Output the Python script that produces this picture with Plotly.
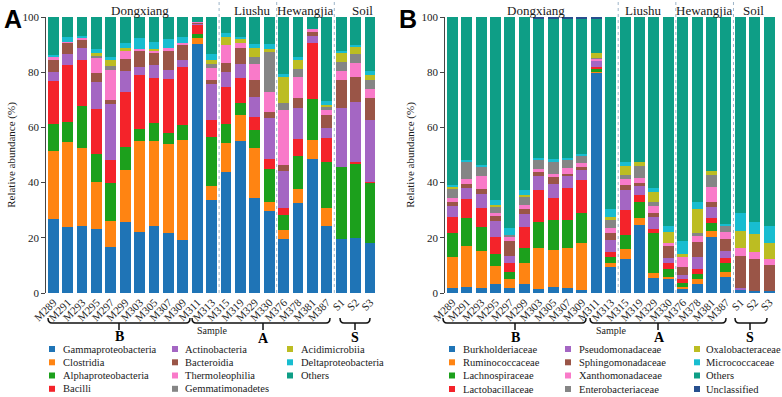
import plotly.graph_objects as go

# ---------------- data ----------------
samples = ["M289", "M291", "M293", "M295", "M297", "M299", "M303", "M305", "M307", "M309",
           "M311", "M313", "M315", "M319", "M329", "M330", "M376", "M378", "M381", "M387",
           "S1", "S2", "S3"]

# Panel A (class level), % relative abundance
classes_A = ["Gammaproteobacteria", "Clostridia", "Alphaproteobacteria", "Bacilli",
             "Actinobacteria", "Bacteroidia", "Thermoleophilia", "Gemmatimonadetes",
             "Acidimicrobiia", "Deltaproteobacteria", "Others"]
gammaproteobacteria = [26.7, 23.8, 24.4, 23.1, 16.6, 25.6, 22.2, 24.3, 21.9, 19.2, 90.2, 33.7, 44.0, 55.2, 34.3, 29.7, 19.6, 32.5, 48.6, 24.3, 19.6, 19.8, 18.0]
clostridia = [24.7, 30.9, 28.2, 17.2, 9.6, 19.0, 32.9, 30.8, 32.0, 36.1, 2.3, 5.2, 10.5, 9.3, 18.3, 3.4, 3.2, 5.1, 6.8, 6.6, 0.0, 0.0, 0.0]
alphaproteobacteria = [9.7, 7.3, 15.2, 10.2, 13.8, 8.4, 4.2, 6.6, 4.0, 5.6, 1.5, 17.7, 6.7, 4.2, 6.5, 11.7, 5.5, 12.0, 14.8, 16.7, 26.2, 27.2, 22.1]
bacilli = [15.7, 20.6, 16.6, 16.2, 8.2, 19.9, 19.6, 16.3, 19.6, 20.9, 3.1, 6.1, 13.5, 9.3, 4.6, 3.6, 2.6, 6.2, 20.3, 8.7, 0.0, 0.3, 0.3]
actinobacteria = [3.3, 4.0, 4.5, 9.9, 20.2, 7.6, 2.9, 4.5, 3.3, 2.6, 0.5, 12.9, 5.3, 5.0, 7.4, 14.9, 13.4, 11.3, 2.6, 3.6, 21.3, 22.0, 22.3]
bacteroidia = [4.3, 4.1, 3.0, 3.0, 1.5, 4.2, 6.0, 4.6, 7.2, 5.5, 0.4, 1.6, 3.2, 5.9, 6.1, 2.4, 2.1, 3.7, 1.8, 4.6, 10.1, 9.1, 8.1]
thermoleophilia = [1.0, 0.4, 0.5, 5.4, 10.9, 3.1, 0.7, 0.7, 0.6, 0.6, 0.3, 4.4, 6.7, 1.6, 5.7, 7.2, 19.9, 7.6, 0.6, 1.8, 3.2, 4.8, 3.0]
gemmatimonadetes = [0.0, 0.0, 0.0, 1.2, 1.4, 0.0, 0.0, 0.0, 0.0, 0.0, 0.0, 1.4, 0.0, 0.0, 2.7, 14.5, 2.4, 2.6, 0.0, 1.2, 3.4, 3.3, 3.4]
acidimicrobiia = [0.0, 0.0, 0.0, 0.6, 2.2, 0.8, 0.0, 0.5, 0.0, 0.0, 0.0, 1.4, 2.7, 1.4, 3.0, 0.9, 9.9, 3.7, 0.0, 0.5, 3.0, 2.7, 1.8]
deltaproteobacteria = [0.8, 1.5, 0.7, 1.5, 1.0, 1.9, 4.0, 2.8, 3.3, 2.4, 0.0, 2.1, 1.7, 1.0, 1.6, 1.9, 0.7, 0.7, 0.0, 1.6, 1.0, 0.7, 1.4]
others_A = [13.8, 7.4, 6.9, 11.7, 14.6, 9.5, 7.5, 8.9, 8.1, 7.1, 1.7, 13.5, 5.7, 7.1, 9.8, 9.8, 20.7, 14.6, 4.5, 30.4, 12.2, 10.1, 19.6]
series_A = [gammaproteobacteria, clostridia, alphaproteobacteria, bacilli, actinobacteria,
            bacteroidia, thermoleophilia, gemmatimonadetes, acidimicrobiia,
            deltaproteobacteria, others_A]

# Panel B (family level)
classes_B = ["Burkholderiaceae", "Ruminococcaceae", "Lachnospiraceae", "Lactobacillaceae",
             "Pseudomonadaceae", "Sphingomonadaceae", "Xanthomonadaceae", "Enterobacteriaceae",
             "Oxalobacteraceae", "Micrococcaceae", "Others", "Unclassified"]
burkholderiaceae = [1.9, 2.3, 1.7, 3.3, 1.7, 3.3, 1.4, 2.1, 1.7, 1.1, 79.8, 9.3, 12.3, 24.6, 5.3, 5.0, 1.3, 3.3, 20.2, 5.7, 1.1, 0.7, 0.7]
ruminococcaceae = [11.3, 14.7, 13.5, 6.5, 3.2, 7.5, 15.0, 13.5, 14.5, 16.9, 0.6, 1.7, 3.5, 2.5, 1.8, 0.9, 1.0, 1.7, 2.4, 2.0, 0.0, 0.0, 0.0]
lachnospiraceae = [8.4, 10.1, 8.6, 4.3, 2.8, 5.4, 9.4, 10.8, 10.2, 10.9, 0.6, 2.2, 5.2, 6.0, 14.5, 2.7, 1.4, 1.9, 2.6, 3.1, 0.0, 0.0, 0.0]
lactobacillaceae = [6.0, 7.0, 7.1, 6.3, 3.1, 7.8, 11.5, 7.9, 11.8, 12.0, 0.8, 1.8, 9.1, 2.4, 1.5, 2.2, 1.3, 1.7, 1.9, 2.0, 0.0, 0.0, 0.0]
pseudomonadaceae = [3.9, 4.1, 5.0, 5.6, 2.6, 4.6, 5.2, 5.2, 4.2, 3.7, 2.3, 4.2, 7.2, 3.3, 4.3, 1.8, 1.5, 4.6, 3.9, 2.4, 0.6, 0.0, 0.0]
sphingomonadaceae = [1.6, 1.2, 1.7, 1.9, 5.6, 1.8, 1.2, 2.4, 0.7, 1.2, 0.3, 2.4, 1.8, 0.9, 1.7, 4.5, 2.8, 5.2, 2.1, 4.4, 11.7, 11.5, 9.4]
xanthomonadaceae = [1.2, 1.9, 4.9, 1.2, 1.2, 1.5, 1.2, 1.2, 2.1, 1.2, 0.6, 2.1, 2.1, 1.9, 2.4, 0.9, 4.1, 2.4, 5.4, 2.4, 3.0, 2.8, 2.2]
enterobacteriaceae = [3.5, 6.0, 3.0, 2.4, 0.8, 3.1, 3.3, 4.5, 3.0, 2.8, 0.3, 2.7, 1.6, 4.5, 1.6, 0.0, 0.0, 0.8, 4.3, 2.3, 0.0, 0.0, 0.0]
oxalobacteraceae = [0.5, 0.0, 0.0, 0.4, 0.0, 0.4, 0.0, 0.0, 0.0, 0.0, 1.5, 1.0, 3.3, 1.5, 3.6, 4.2, 0.7, 8.7, 1.5, 0.0, 6.2, 6.4, 5.7]
micrococcaceae = [0.8, 0.9, 0.9, 1.8, 2.4, 1.9, 0.6, 0.8, 0.6, 0.4, 0.0, 2.9, 1.5, 0.0, 1.2, 2.1, 4.7, 2.8, 0.0, 0.6, 6.3, 4.4, 6.3]
others_B = [60.9, 51.8, 53.6, 66.3, 76.6, 62.7, 50.6, 51.0, 50.6, 49.2, 12.6, 69.7, 52.4, 52.4, 62.1, 75.7, 81.2, 66.9, 55.7, 75.1, 71.1, 74.2, 75.7]
unclassified = [0.0, 0.0, 0.0, 0.0, 0.0, 0.0, 0.6, 0.6, 0.6, 0.6, 0.6, 0.0, 0.0, 0.0, 0.0, 0.0, 0.0, 0.0, 0.0, 0.0, 0.0, 0.0, 0.0]
series_B = [burkholderiaceae, ruminococcaceae, lachnospiraceae, lactobacillaceae,
            pseudomonadaceae, sphingomonadaceae, xanthomonadaceae, enterobacteriaceae,
            oxalobacteraceae, micrococcaceae, others_B, unclassified]

y_ticks = [0, 20, 40, 60, 80, 100]
region_names = ["Dongxiang", "Liushu", "Hewangjia", "Soil"]
group_letters = ["B", "A", "S"]

# ---------------- style ----------------
pal = ["#1F74B6", "#FF8412", "#1CA01C", "#F4232A", "#A466C3", "#9A5547",
       "#F97AC9", "#858585", "#BCBD22", "#18BDD0", "#0E9E86", "#274F8E"]
W, H = 782, 397
SERIF = "Liberation Serif, Times New Roman, serif"
TXT = "#1a1a1a"


def px(x):
    return x / W


def py(y):
    return 1 - y / H


fig = go.Figure()
for i, (nm, vals) in enumerate(zip(classes_A, series_A)):
    fig.add_trace(go.Bar(x=samples, y=vals, name=nm, marker=dict(color=pal[i], line=dict(width=0)),
                         width=0.76, xaxis="x", yaxis="y", showlegend=False))
for i, (nm, vals) in enumerate(zip(classes_B, series_B)):
    fig.add_trace(go.Bar(x=samples, y=vals, name=nm, marker=dict(color=pal[i], line=dict(width=0)),
                         width=0.76, xaxis="x2", yaxis="y2", showlegend=False))

ydom = [py(293), py(17)]
xcommon = dict(type="category", range=[-0.5, 22.5], tickangle=-45, showline=False, ticks="",
               showgrid=False, zeroline=False, automargin=False,
               tickfont=dict(family=SERIF, size=11, color=TXT))
ycommon = dict(range=[0, 100], tickvals=y_ticks, ticksuffix="%", showline=True, linecolor="#444",
               linewidth=1, ticks="outside", ticklen=4, tickcolor="#444", showgrid=False,
               zeroline=False, automargin=False, tickfont=dict(family=SERIF, size=11, color=TXT),
               title=dict(text="Relative abundance (%)", font=dict(family=SERIF, size=11, color=TXT),
                          standoff=4))

fig.update_layout(
    template="none",
    width=W, height=H, margin=dict(l=0, r=0, t=0, b=0, pad=0, autoexpand=False),
    paper_bgcolor="white", plot_bgcolor="white", barmode="stack", bargap=0,
    xaxis=dict(domain=[px(46.3), px(377.5)], anchor="y", **xcommon),
    yaxis=dict(domain=ydom, anchor="x", **ycommon),
    xaxis2=dict(domain=[px(445.3), px(776.7)], anchor="y2", **xcommon),
    yaxis2=dict(domain=ydom, anchor="x2", **ycommon),
)

shapes = []
ann = []


def text(x, y, s, size, family=SERIF, color=TXT, xanchor="center"):
    ann.append(dict(x=px(x), y=py(y), xref="paper", yref="paper", text=s, showarrow=False, borderpad=0,
                    xanchor=xanchor, yanchor="middle", font=dict(family=family, size=size, color=color)))


# separators between regions
for xr in ["x", "x2"]:
    for sep in [11.5, 15.5, 19.5]:
        shapes.append(dict(type="line", xref=xr, yref="paper", x0=sep, x1=sep, y0=py(293), y1=py(2),
                           line=dict(color="#9DB4C8", width=1, dash="dot")))

# region labels
for xpos, name in zip([140, 252, 305, 362], region_names):
    text(xpos, 10, name, 13)
for xpos, name in zip([536, 643, 704, 753], region_names):
    text(xpos, 10, name, 13)

# panel letters
for xpos, letter in [(13, "A"), (408, "B")]:
    text(xpos, 19, "<b>%s</b>" % letter, 25, family="Liberation Sans, Arial, sans-serif", color="#000")


def brace(x1, x2, xc, y):
    p = "M %f,%f Q %f,%f %f,%f L %f,%f Q %f,%f %f,%f" % (
        px(x1), py(y - 5), px(x1), py(y), px(x1 + 4), py(y),
        px(x2 - 4), py(y), px(x2), py(y), px(x2), py(y - 5))
    shapes.append(dict(type="path", xref="paper", yref="paper", path=p, line=dict(color="#111", width=1.5)))
    shapes.append(dict(type="line", xref="paper", yref="paper", x0=px(xc), x1=px(xc), y0=py(y), y1=py(y + 7),
                       line=dict(color="#111", width=1.5)))


brace_A = [(48, 190, 119, 336.5), (192, 330, 263, 338), (340, 370, 355, 337)]
brace_B = [(443, 586, 515, 337), (590, 726, 658, 337.5), (735, 767, 750, 337.5)]
for braces, samp_x in [(brace_A, 212), (brace_B, 611)]:
    for (x1, x2, xc, ly), letter in zip(braces, group_letters):
        brace(x1, x2, xc, 323)
        text(xc + (1 if (letter == "A" and xc > 400) else 0), ly, "<b>%s</b>" % letter, 14, color="#000")
    text(samp_x, 330, "Sample", 10)


# legends (drawn as squares + text)
def legend(names, col_sq, col_tx, rows):
    for i, nm in enumerate(names):
        c, r = divmod(i, 4)
        y = rows[r]
        shapes.append(dict(type="rect", xref="paper", yref="paper", x0=px(col_sq[c] - 3), x1=px(col_sq[c] + 3),
                           y0=py(y + 3), y1=py(y - 3), fillcolor=pal[i], line=dict(width=0)))
        text(col_tx[c], y, nm, 10.5, xanchor="left")


legend(classes_A, [52, 175, 290], [62, 184, 300], [349, 362.3, 375.5, 388.8])
legend(classes_B, [452, 568, 697], [462, 578, 705], [349, 362.3, 375.5, 389])

fig.update_layout(shapes=shapes, annotations=ann)
fig.write_html("out.html", config={"responsive": False, "displayModeBar": False},
               post_script="document.body.style.margin='0';document.body.style.overflow='hidden';")
